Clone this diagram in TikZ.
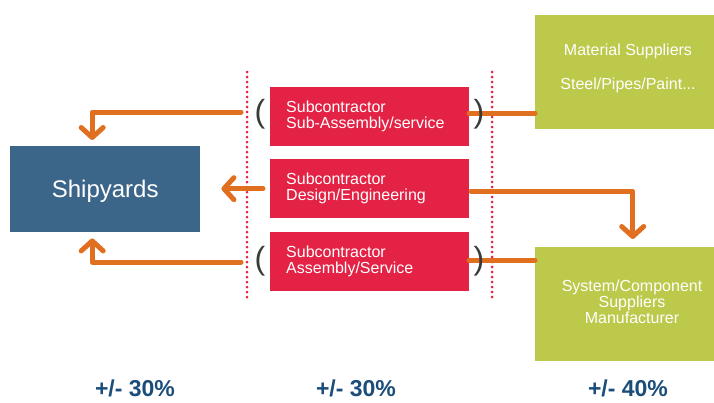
\documentclass[tikz,border=0pt]{standalone}
\usepackage{fontspec}
\setmainfont{Liberation Sans}
\usetikzlibrary{arrows.meta}
\definecolor{shipblue}{HTML}{3C6689}
\definecolor{subred}{HTML}{E32245}
\definecolor{supgreen}{HTML}{BDC94B}
\definecolor{arrorange}{HTML}{E06F1F}
\definecolor{pctblue}{HTML}{1B4D7A}
\definecolor{pargray}{HTML}{3A3A3A}
\begin{document}
\begin{tikzpicture}[x=1pt,y=-1pt,
  box/.style={draw=none, inner sep=0pt, anchor=north west},
  redbox/.style={box, fill=subred, text=white, minimum width=199, minimum height=59,
    font=\fontsize{16}{16}\selectfont, align=left, text width=167, inner xsep=16},
  greenbox/.style={box, fill=supgreen, text=white, minimum width=179, minimum height=114},
  gtext/.style={text=white, font=\fontsize{16}{16}\selectfont, inner sep=0pt, align=center},
  orange/.style={draw=arrorange, line width=5pt, line cap=round, line join=round},
  arr/.style={orange, -{Straight Barb[length=10pt, width=22pt, line width=5pt, round]}},
  dotline/.style={draw=subred, line width=3pt, line cap=round, dash pattern=on 0pt off 5pt},
  paren/.style={text=pargray, font=\fontsize{32}{34}\selectfont, inner sep=0pt},
  pct/.style={text=pctblue, font=\bfseries\fontsize{23}{24}\selectfont, inner sep=0pt}]
\useasboundingbox (0,0) rectangle (714,402);

% dotted separators
\coordinate (d1t) at (247,72);
\coordinate (d1b) at (247,300);
\coordinate (d2t) at (492,72);
\coordinate (d2b) at (492,298);
\draw[dotline] (d1t) -- (d1b);
\draw[dotline] (d2t) -- (d2b);

% boxes
\node[box, fill=shipblue, minimum width=190, minimum height=86, text=white, text depth=0pt,
  font=\fontsize{24}{26}\selectfont] (ship) at (10,146) {Shipyards};
\node[redbox] (r1) at (270,87) {Subcontractor\\Sub-Assembly/service};
\node[redbox] (r2) at (270,159) {Subcontractor\\Design/Engineering};
\node[redbox] (r3) at (270,232) {Subcontractor\\Assembly/Service};
\node[greenbox] (g1) at (535,15) {};
\node[gtext] (g1a) at (628,51) {Material Suppliers};
\node[gtext] (g1b) at (628,85) {Steel/Pipes/Paint...};
\node[greenbox] (g2) at (535,247) {};
\node[gtext] (g2t) at (632,302) {System/Component\\Suppliers\\Manufacturer};

% connectors
\coordinate (a1s) at (241,112);
\coordinate (a3s) at (241,262);
\coordinate (r1o) at (469,113);
\coordinate (r3o) at (469,260);
\coordinate (r2o) at (471,191);
\draw[arr, shorten >=-2pt] (a1s) -| ([xshift=-13pt, yshift=8pt]ship.north);
\draw[arr, shorten >=-2pt] (a3s) -| ([xshift=-13pt, yshift=-8pt]ship.south);
\draw[arr, shorten <=7pt, shorten >=21pt] (r2.west) -- (ship.east |- r2.west);
\draw[orange] (r1o) -- (g1.west |- r1o);
\draw[orange] (r3o) -- (g2.west |- r3o);
\draw[arr, shorten >=2pt] (r2o) -| ([xshift=8pt, yshift=6pt]g2.north);

% parentheses
\node[paren] (p1) at (260,114) {(};
\node[paren] (p2) at (479,114) {)};
\node[paren] (p3) at (260,261) {(};
\node[paren] (p4) at (479,261) {)};

% percentages
\node[pct] (pc1) at (135,388) {+/- 30\%};
\node[pct] (pc2) at (356,388) {+/- 30\%};
\node[pct] (pc3) at (628,388) {+/- 40\%};
\end{tikzpicture}
\end{document}
